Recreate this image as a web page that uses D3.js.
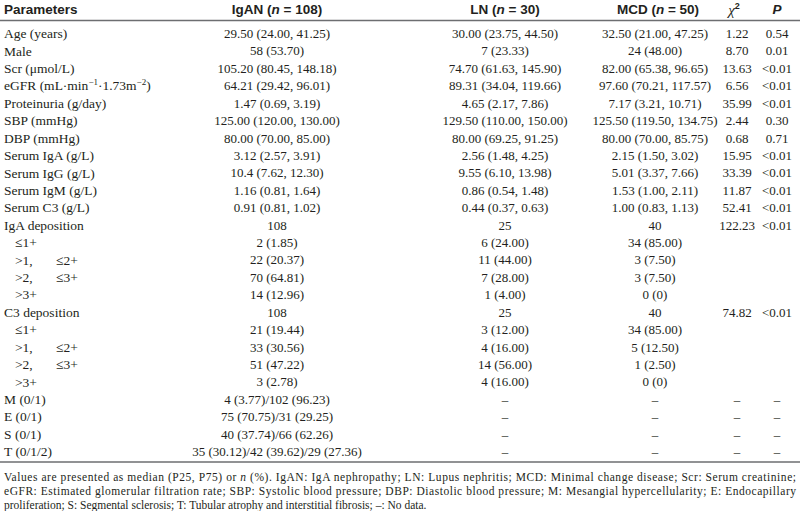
<!DOCTYPE html>
<html><head><meta charset="utf-8">
<script src="https://cdn.jsdelivr.net/npm/d3@7"></script>
<style>
html,body{margin:0;padding:0;background:#fff;}
svg{display:block;}
</style></head>
<body>
<svg id="chart" width="800" height="511"></svg>
<script>
// ---- data ----
const columns = ["param", "igan", "ln", "mcd", "chi2", "p"];
const groupNames = ["IgAN", "LN", "MCD"];
const groupN = [108, 30, 50];

const params = [
  "Age (years)", "Male", "Scr (\u03bcmol/L)", "eGFR", "Proteinuria (g/day)",
  "SBP (mmHg)", "DBP (mmHg)", "Serum IgA (g/L)", "Serum IgG (g/L)", "Serum IgM (g/L)",
  "Serum C3 (g/L)", "IgA deposition", "\u22641+", ">1,|\u22642+", ">2,|\u22643+", ">3+",
  "C3 deposition", "\u22641+", ">1,|\u22642+", ">2,|\u22643+", ">3+",
  "M (0/1)", "E (0/1)", "S (0/1)", "T (0/1/2)"
];
const subRow = [0,0,0,0,0,0,0,0,0,0,0,0,1,1,1,1,0,1,1,1,1,0,0,0,0];

const igan = [
  "29.50 (24.00, 41.25)", "58 (53.70)", "105.20 (80.45, 148.18)", "64.21 (29.42, 96.01)",
  "1.47 (0.69, 3.19)", "125.00 (120.00, 130.00)", "80.00 (70.00, 85.00)", "3.12 (2.57, 3.91)",
  "10.4 (7.62, 12.30)", "1.16 (0.81, 1.64)", "0.91 (0.81, 1.02)", "108", "2 (1.85)",
  "22 (20.37)", "70 (64.81)", "14 (12.96)", "108", "21 (19.44)", "33 (30.56)", "51 (47.22)",
  "3 (2.78)", "4 (3.77)/102 (96.23)", "75 (70.75)/31 (29.25)", "40 (37.74)/66 (62.26)",
  "35 (30.12)/42 (39.62)/29 (27.36)"
];
const ln = [
  "30.00 (23.75, 44.50)", "7 (23.33)", "74.70 (61.63, 145.90)", "89.31 (34.04, 119.66)",
  "4.65 (2.17, 7.86)", "129.50 (110.00, 150.00)", "80.00 (69.25, 91.25)", "2.56 (1.48, 4.25)",
  "9.55 (6.10, 13.98)", "0.86 (0.54, 1.48)", "0.44 (0.37, 0.63)", "25", "6 (24.00)",
  "11 (44.00)", "7 (28.00)", "1 (4.00)", "25", "3 (12.00)", "4 (16.00)", "14 (56.00)",
  "4 (16.00)", "\u2013", "\u2013", "\u2013", "\u2013"
];
const mcd = [
  "32.50 (21.00, 47.25)", "24 (48.00)", "82.00 (65.38, 96.65)", "97.60 (70.21, 117.57)",
  "7.17 (3.21, 10.71)", "125.50 (119.50, 134.75)", "80.00 (70.00, 85.75)", "2.15 (1.50, 3.02)",
  "5.01 (3.37, 7.66)", "1.53 (1.00, 2.11)", "1.00 (0.83, 1.13)", "40", "34 (85.00)",
  "3 (7.50)", "3 (7.50)", "0 (0)", "40", "34 (85.00)", "5 (12.50)", "1 (2.50)",
  "0 (0)", "\u2013", "\u2013", "\u2013", "\u2013"
];
const chi2 = [
  "1.22", "8.70", "13.63", "6.56", "35.99", "2.44", "0.68", "15.95", "33.39", "11.87",
  "52.41", "122.23", "", "", "", "", "74.82", "", "", "", "", "\u2013", "\u2013", "\u2013", "\u2013"
];
const pvals = [
  "0.54", "0.01", "<0.01", "<0.01", "<0.01", "0.30", "0.71", "<0.01", "<0.01", "<0.01",
  "<0.01", "<0.01", "", "", "", "", "<0.01", "", "", "", "", "\u2013", "\u2013", "\u2013", "\u2013"
];
const footnote = [
  "Values are presented as median (P25, P75) or |n| (%). IgAN: IgA nephropathy; LN: Lupus nephritis; MCD: Minimal change disease; Scr: Serum creatinine;",
  "eGFR: Estimated glomerular filtration rate; SBP: Systolic blood pressure; DBP: Diastolic blood pressure; M: Mesangial hypercellularity; E: Endocapillary",
  "proliferation; S: Segmental sclerosis; T: Tubular atrophy and interstitial fibrosis; \u2013: No data."
];

// ---- layout ----
const svg = d3.select("#chart");
svg.append("rect").attr("width", 800).attr("height", 511).attr("fill", "#fff");

const x = d3.scaleOrdinal().domain(columns).range([4, 277, 505, 655, 737, 777]);
const y = d3.scaleLinear().domain([0, params.length - 1]).range([33.5, 451.5]);
const serif = "'Liberation Serif', 'Times New Roman', serif";
const sans = "'Liberation Sans', Arial, sans-serif";
const textColor = "#231f20";

// header
const hdr = svg.append("g").attr("font-family", sans).attr("font-weight", "bold")
  .attr("font-size", 13.5).attr("fill", textColor);
hdr.append("text").attr("x", x("param")).attr("y", 9).attr("dy", "0.35em").text("Parameters");
[["igan", 277], ["ln", 505], ["mcd", 658]].forEach(([c], i) => {
  const t = hdr.append("text").attr("x", c === "mcd" ? x(c) + 3 : x(c)).attr("y", 9).attr("dy", "0.35em").attr("text-anchor", "middle");
  t.append("tspan").text(groupNames[i] + " (");
  t.append("tspan").attr("font-style", "italic").text("n");
  t.append("tspan").text(" = " + groupN[i] + ")");
});
const chiT = svg.append("text").attr("x", x("chi2") - 3).attr("y", 10).attr("dy", "0.35em")
  .attr("text-anchor", "middle").attr("font-family", serif).attr("font-size", 15).attr("font-style", "italic").attr("fill", textColor);
chiT.append("tspan").text("\u03c7");
chiT.append("tspan").attr("dy", -6).attr("font-size", 9).attr("font-style", "normal").attr("font-family", sans).attr("font-weight", "bold").text("2");
hdr.append("text").attr("x", x("p")).attr("y", 9).attr("dy", "0.35em").attr("text-anchor", "middle")
  .attr("font-style", "italic").text("P");

// rules
const rule = "#6d6e71";
svg.append("line").attr("x1", 0).attr("x2", 800).attr("y1", 20.5).attr("y2", 20.5).attr("stroke", rule).attr("stroke-width", 1.5);
svg.append("line").attr("x1", 0).attr("x2", 800).attr("y1", 462).attr("y2", 462).attr("stroke", rule).attr("stroke-width", 1.5);

// body labels
const body = svg.append("g").attr("font-family", serif).attr("font-size", 13.5).attr("fill", textColor);

params.forEach((p, i) => {
  const yy = y(i);
  if (p === "eGFR") {
    const t = body.append("text").attr("x", x("param")).attr("y", yy).attr("dy", "0.35em");
    t.append("tspan").text("eGFR (mL\u00b7min");
    t.append("tspan").attr("dy", -5).attr("font-size", 9).text("\u22121");
    t.append("tspan").attr("dy", 5).text("\u00b71.73m");
    t.append("tspan").attr("dy", -5).attr("font-size", 9).text("\u22122");
    t.append("tspan").attr("dy", 5).text(")");
  } else if (subRow[i]) {
    const parts = p.split("|");
    body.append("text").attr("x", x("param") + 11).attr("y", yy).attr("dy", "0.35em").text(parts[0]);
    if (parts[1]) body.append("text").attr("x", x("param") + 52).attr("y", yy).attr("dy", "0.35em").text(parts[1]);
  } else {
    body.append("text").attr("x", x("param")).attr("y", yy).attr("dy", "0.35em").text(p);
  }
});

// body values
const vals = svg.append("g").attr("font-family", serif).attr("font-size", 13).attr("fill", textColor);
const valueCols = [["igan", igan], ["ln", ln], ["mcd", mcd], ["chi2", chi2], ["p", pvals]];
valueCols.forEach(([c, arr]) => {
  vals.selectAll(null).data(arr).enter().append("text")
    .attr("x", x(c)).attr("y", (d, i) => y(i)).attr("dy", "0.35em")
    .attr("text-anchor", "middle").text(d => d);
});

// footnote
const fn = svg.append("g").attr("font-family", serif).attr("font-size", 11.5).attr("fill", textColor);
const fy = d3.scaleLinear().domain([0, 2]).range([477, 505]);
footnote.forEach((line, i) => {
  const t = fn.append("text").attr("x", 4).attr("y", fy(i)).attr("dy", "0.35em");
  if (i < 2) t.attr("textLength", 792).attr("lengthAdjust", "spacing");
  line.split("|").forEach((seg, j) => {
    const s = t.append("tspan").text(seg);
    if (j === 1) s.attr("font-style", "italic");
  });
});
</script>
</body></html>
